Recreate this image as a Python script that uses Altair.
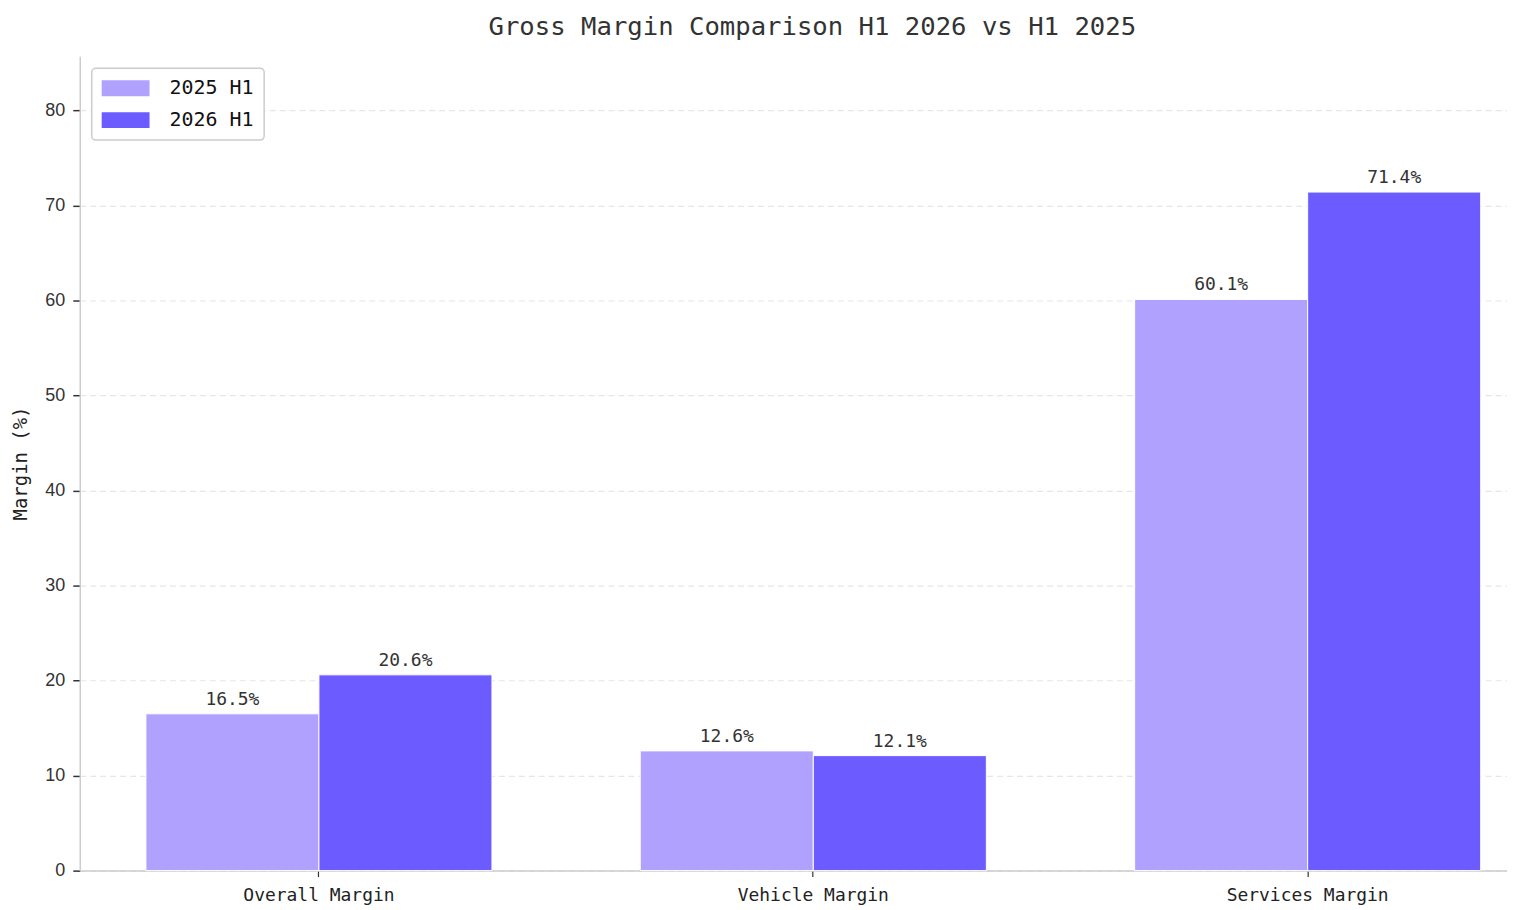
import altair as alt
import pandas as pd

categories = ["Overall Margin", "Vehicle Margin", "Services Margin"]
periods = ["2025 H1", "2026 H1"]
margin_2025 = [16.5, 12.6, 60.1]
margin_2026 = [20.6, 12.1, 71.4]
colors = ["#b0a1ff", "#6c5cff"]

rows = []
for c, a, b in zip(categories, margin_2025, margin_2026):
    rows.append({"category": c, "period": periods[0], "value": a})
    rows.append({"category": c, "period": periods[1], "value": b})
df = pd.DataFrame(rows)
df["label"] = df["value"].map(lambda v: f"{v:.1f}%")

MONO = "DejaVu Sans Mono"

x_enc = alt.X(
    "category:N",
    sort=categories,
    title=None,
    scale=alt.Scale(paddingInner=0.3, paddingOuter=0.0935, align=0.7155),
    axis=alt.Axis(
        labelAngle=0,
        labelFont=MONO,
        labelFontSize=18,
        labelColor="#222222",
        labelPadding=10,
        tickSize=6,
        tickColor="#333333",
        tickWidth=1.2,
        domainColor="#cccccc",
        domainWidth=1.5,
        grid=False,
    ),
)
xoff = alt.XOffset("period:N", sort=periods, scale=alt.Scale(paddingInner=0, paddingOuter=0))

y_enc = alt.Y(
    "value:Q",
    scale=alt.Scale(domain=[0, 85.68], nice=False),
    title="Margin (%)",
    axis=alt.Axis(
        values=[0, 10, 20, 30, 40, 50, 60, 70, 80],
        labelFont="Liberation Sans",
        labelFontSize=18,
        labelColor="#333333",
        labelPadding=8,
        tickSize=7,
        tickColor="#333333",
        tickWidth=1.5,
        domainColor="#cccccc",
        domainWidth=1.5,
        gridColor="#e6e6e6",
        gridDash=[6, 4],
        gridWidth=1.2,
        titleFont=MONO,
        titleFontSize=19,
        titleFontWeight="normal",
        titleColor="#222222",
        titleX=-49,
        titleY=408,
    ),
)

bars = alt.Chart(df).mark_bar(stroke="white", strokeWidth=1).encode(
    x=x_enc,
    xOffset=xoff,
    y=y_enc,
    color=alt.Color(
        "period:N",
        sort=periods,
        scale=alt.Scale(domain=periods, range=colors),
        legend=alt.Legend(
            title=None,
            orient="none",
            legendX=12,
            legendY=12,
            padding=10,
            strokeColor="#cccccc",
            cornerRadius=4,
            fillColor="white",
            symbolType="M-3,-1H3V1H-3Z",
            symbolSize=256,
            symbolStrokeWidth=0,
            symbolOffset=14,
            labelOffset=34,
            labelFont=MONO,
            labelFontSize=20,
            labelColor="#111111",
            rowPadding=12,
        ),
    ),
)

labels = alt.Chart(df).mark_text(
    baseline="bottom", dy=-5, font=MONO, fontSize=18, color="#333333"
).encode(
    x=alt.X("category:N", sort=categories),
    xOffset=alt.XOffset("period:N", sort=periods),
    y=alt.Y("value:Q"),
    text="label:N",
)

chart = (
    alt.layer(bars, labels)
    .properties(
        width=1432,
        height=817,
        title=alt.TitleParams(
            "Gross Margin Comparison H1 2026 vs H1 2025",
            font=MONO,
            fontSize=25.7,
            fontWeight="normal",
            color="#333333",
            anchor="middle",
            dx=19,
            offset=16,
        ),
        autosize=alt.AutoSizeParams(type="none"),
        padding={"left": 72, "top": 47, "right": 0, "bottom": 36},
    )
    .configure_view(stroke=None)
    .configure_legend(strokeWidth=1.5)
)

chart.save("out.html", embed_options={"renderer": "svg", "actions": False})
